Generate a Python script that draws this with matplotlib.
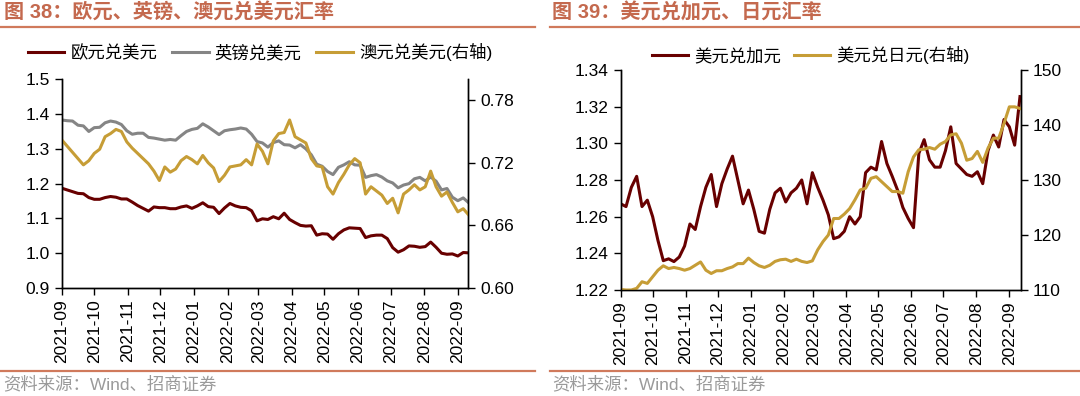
import matplotlib
matplotlib.use('Agg')
import matplotlib.pyplot as plt
import matplotlib.dates as mdates
import matplotlib.ticker as mticker
import pandas as pd
from matplotlib.lines import Line2D

plt.rcParams['font.family'] = ['Liberation Sans', 'Noto Sans CJK SC']
plt.rcParams['axes.unicode_minus'] = False

# ---------------- data (5-day sampling from 2021-09-01) ----------------
start_date = '2021-09-01'
step = '5D'

eur_usd = [1.187, 1.182, 1.177, 1.172, 1.171, 1.160, 1.155, 1.155, 1.160, 1.163,
           1.161, 1.156, 1.156, 1.147, 1.137, 1.129, 1.121, 1.133, 1.131, 1.131,
           1.128, 1.128, 1.133, 1.136, 1.129, 1.136, 1.145, 1.134, 1.132, 1.114,
           1.130, 1.143, 1.136, 1.132, 1.131, 1.122, 1.093, 1.099, 1.097, 1.105,
           1.099, 1.115, 1.097, 1.088, 1.080, 1.078, 1.079, 1.052, 1.056, 1.055,
           1.040, 1.056, 1.067, 1.073, 1.072, 1.071, 1.045, 1.050, 1.052, 1.052,
           1.042, 1.016, 1.003, 1.010, 1.021, 1.020, 1.017, 1.019, 1.032, 1.017,
           1.000, 0.997, 0.998, 0.992, 1.002, 1.001]
gbp_usd = [1.383, 1.381, 1.380, 1.368, 1.366, 1.350, 1.361, 1.362, 1.375, 1.380,
           1.377, 1.370, 1.352, 1.342, 1.345, 1.345, 1.333, 1.331, 1.328, 1.325,
           1.327, 1.325, 1.338, 1.350, 1.356, 1.359, 1.372, 1.363, 1.352, 1.341,
           1.352, 1.355, 1.357, 1.360, 1.357, 1.342, 1.321, 1.317, 1.305, 1.318,
           1.323, 1.312, 1.311, 1.303, 1.312, 1.300, 1.283, 1.256, 1.250, 1.235,
           1.226, 1.247, 1.254, 1.263, 1.254, 1.253, 1.218, 1.223, 1.226, 1.219,
           1.208, 1.202, 1.188, 1.196, 1.200, 1.214, 1.218, 1.208, 1.219, 1.207,
           1.182, 1.186, 1.161, 1.151, 1.159, 1.145]
aud_usd = [0.742, 0.736, 0.730, 0.724, 0.718, 0.722, 0.729, 0.733, 0.745, 0.748,
           0.752, 0.750, 0.740, 0.734, 0.729, 0.724, 0.719, 0.712, 0.703, 0.716,
           0.711, 0.714, 0.722, 0.726, 0.723, 0.719, 0.727, 0.720, 0.715, 0.702,
           0.708, 0.716, 0.717, 0.718, 0.723, 0.718, 0.738, 0.731, 0.719, 0.741,
           0.748, 0.749, 0.761, 0.745, 0.742, 0.739, 0.724, 0.717, 0.716, 0.697,
           0.690, 0.701, 0.709, 0.718, 0.724, 0.720, 0.690, 0.697, 0.693, 0.689,
           0.681, 0.686, 0.672, 0.690, 0.694, 0.699, 0.694, 0.697, 0.712, 0.697,
           0.688, 0.692, 0.682, 0.673, 0.676, 0.670]
usd_cad = [1.267, 1.2655, 1.276, 1.282, 1.2655, 1.269, 1.260, 1.247, 1.236, 1.237,
           1.2355, 1.238, 1.244, 1.256, 1.253, 1.2655, 1.276, 1.283, 1.2655, 1.278,
           1.286, 1.293, 1.280, 1.267, 1.2745, 1.264, 1.252, 1.251, 1.264, 1.273,
           1.2755, 1.268, 1.273, 1.2755, 1.280, 1.267, 1.284, 1.276, 1.269, 1.261,
           1.248, 1.249, 1.252, 1.260, 1.256, 1.260, 1.284, 1.287, 1.2855, 1.301,
           1.289, 1.282, 1.2745, 1.265, 1.259, 1.254, 1.2945, 1.302, 1.291, 1.287,
           1.287, 1.296, 1.309, 1.289, 1.286, 1.283, 1.282, 1.2845, 1.278, 1.296,
           1.3045, 1.298, 1.313, 1.309, 1.299, 1.3255]
usd_jpy = [110.1, 110.0, 110.0, 110.3, 111.5, 111.2, 112.4, 113.6, 114.4, 113.9,
           114.1, 113.9, 113.6, 113.9, 114.5, 115.1, 113.6, 113.0, 113.5, 113.5,
           113.9, 114.2, 114.8, 114.8, 115.8, 115.0, 114.4, 114.1, 114.5, 115.2,
           115.5, 115.6, 115.2, 115.6, 115.2, 115.0, 115.3, 117.3, 118.8, 120.0,
           123.0, 123.0, 123.8, 124.8, 126.4, 128.2, 128.5, 130.3, 130.6, 129.7,
           128.8, 127.9, 127.9, 127.6, 131.5, 134.2, 135.5, 135.6, 135.9, 135.6,
           136.5, 137.0, 138.2, 138.4, 136.7, 133.6, 133.9, 135.2, 133.2, 135.8,
           137.6, 137.6, 140.3, 143.3, 143.3, 143.0]

left_title = '图 38：欧元、英镑、澳元兑美元汇率'
right_title = '图 39：美元兑加元、日元汇率'
left_labels = ['欧元兑美元', '英镑兑美元', '澳元兑美元(右轴)']
right_labels = ['美元兑加元', '美元兑日元(右轴)']
source_text = '资料来源：Wind、招商证券'

# ---------------- style ----------------
C_RED = '#680000'
C_GRAY = '#858585'
C_GOLD = '#C69D36'
C_TITLE = '#C4694E'
C_RULE = '#D07A5C'
C_SRC = '#9A9A9A'
LW = 2.2
TICK_FS = 12.5
LEG_FS = 12.5

W, H = 1080, 396
fig = plt.figure(figsize=(W / 100, H / 100), dpi=100)


def fx(px):
    return px / W


def fy(py):
    return 1 - py / H


def style_axes(ax, axr):
    for a in (ax, axr):
        a.spines['top'].set_visible(False)
        for s in ('left', 'right', 'bottom'):
            a.spines[s].set_linewidth(1.0)
            a.spines[s].set_color('black')
        a.tick_params(direction='out', length=5, width=1, labelsize=TICK_FS, colors='black')
    ax.xaxis.set_major_locator(mdates.MonthLocator())
    ax.xaxis.set_major_formatter(mdates.DateFormatter('%Y-%m'))
    for lab in ax.get_xticklabels():
        lab.set_rotation(90)
    ax.tick_params(axis='x', pad=3)


# ---------------- left chart ----------------
d_left = pd.date_range(start_date, periods=len(eur_usd), freq=step)
ax1 = fig.add_axes([fx(61.7), fy(288), fx(468.3) - fx(61.7), fy(79.3) - fy(288)])
ax1r = ax1.twinx()
l1, = ax1.plot(d_left, eur_usd, color=C_RED, lw=LW)
l2, = ax1.plot(d_left, gbp_usd, color=C_GRAY, lw=LW)
l3, = ax1r.plot(d_left, aud_usd, color=C_GOLD, lw=LW)
ax1.set_ylim(0.9, 1.5)
ax1.set_yticks([0.9, 1.0, 1.1, 1.2, 1.3, 1.4, 1.5])
ax1.yaxis.set_major_formatter(mticker.FormatStrFormatter('%.1f'))
ax1r.set_ylim(0.60, 0.80)
ax1r.set_yticks([0.60, 0.66, 0.72, 0.78])
ax1r.yaxis.set_major_formatter(mticker.FormatStrFormatter('%.2f'))
ax1.set_xlim(pd.Timestamp('2021-09-01'), pd.Timestamp('2022-09-10 16:00'))
style_axes(ax1, ax1r)
fig.legend([l1, l2, l3], left_labels, loc='center left',
           bbox_to_anchor=(fx(28), fy(52)), ncol=3, frameon=False,
           fontsize=LEG_FS, handlelength=2.1, handletextpad=0.35,
           columnspacing=0.85, borderpad=0, borderaxespad=0)

# ---------------- right chart ----------------
d_right = pd.date_range(start_date, periods=len(usd_cad), freq=step)
ax2 = fig.add_axes([fx(620.7), fy(290), fx(1020.7) - fx(620.7), fy(70) - fy(290)])
ax2r = ax2.twinx()
m1, = ax2.plot(d_right, usd_cad, color=C_RED, lw=LW)
m2, = ax2r.plot(d_right, usd_jpy, color=C_GOLD, lw=LW)
ax2.set_ylim(1.22, 1.34)
ax2.set_yticks([1.22, 1.24, 1.26, 1.28, 1.30, 1.32, 1.34])
ax2.yaxis.set_major_formatter(mticker.FormatStrFormatter('%.2f'))
ax2r.set_ylim(110, 150)
ax2r.set_yticks([110, 120, 130, 140, 150])
ax2.set_xlim(pd.Timestamp('2021-09-01'), pd.Timestamp('2022-09-11 16:00'))
style_axes(ax2, ax2r)
fig.legend([m1, m2], right_labels, loc='center left',
           bbox_to_anchor=(fx(652), fy(55)), ncol=2, frameon=False,
           fontsize=LEG_FS, handlelength=2.1, handletextpad=0.35,
           columnspacing=0.7, borderpad=0, borderaxespad=0)

# ---------------- titles, rules, source ----------------
fig.text(fx(4), fy(13), left_title, fontsize=14.5, fontweight='bold', color=C_TITLE,
         ha='left', va='center')
fig.text(fx(552), fy(13), right_title, fontsize=14.5, fontweight='bold', color=C_TITLE,
         ha='left', va='center')
for x0, x1 in ((0, 535), (550, 1080)):
    fig.add_artist(Line2D([fx(x0), fx(x1)], [fy(26.5), fy(26.5)], color=C_RULE, lw=1.6))
    fig.add_artist(Line2D([fx(x0), fx(x1)], [fy(371), fy(371)], color=C_RULE, lw=1.6))
fig.text(fx(3), fy(384), source_text, fontsize=12.5, color=C_SRC, ha='left', va='center')
fig.text(fx(552), fy(384), source_text, fontsize=12.5, color=C_SRC, ha='left', va='center')

fig.savefig('out.png', dpi=100)
